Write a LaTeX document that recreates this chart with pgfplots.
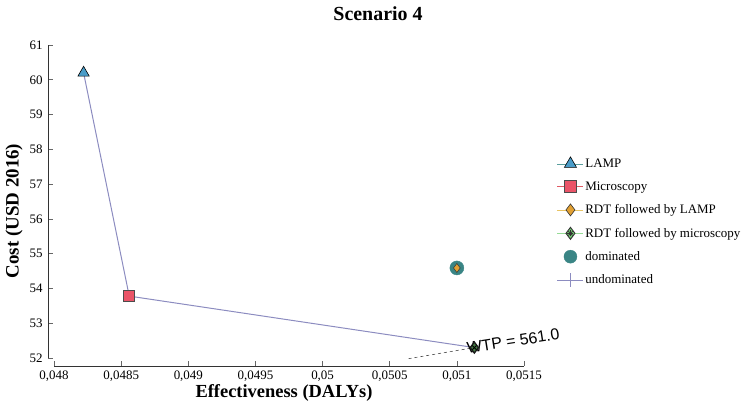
\documentclass[border=0pt]{standalone}
\usepackage{pgfplots}
\pgfplotsset{compat=1.18}
\usepackage{fontspec}
\setmainfont{Liberation Serif}
\newfontfamily\arialfont{Liberation Sans}
\definecolor{frontier}{RGB}{140,140,192}
\definecolor{lampfill}{RGB}{74,156,200}
\definecolor{lampline}{RGB}{90,158,158}
\definecolor{micfill}{RGB}{234,84,104}
\definecolor{micline}{RGB}{224,90,100}
\definecolor{rlfill}{RGB}{226,160,50}
\definecolor{rlline}{RGB}{232,196,100}
\definecolor{rmfill}{RGB}{110,200,110}
\definecolor{rmline}{RGB}{150,220,150}
\definecolor{domfill}{RGB}{58,133,133}
\begin{document}
\begin{tikzpicture}[x=1bp,y=1bp]
\useasboundingbox (0,0) rectangle (750,417);
\begin{axis}[
  at={(48bp,51bp)}, anchor=south west,
  scale only axis, width=476bp, height=321bp,
  xmin=0.047955, xmax=0.0515, ymin=51.77, ymax=61,
  axis x line*=bottom, axis y line*=left,
  axis line style={draw=none},
  scaled x ticks=false,
  xtick={0.048,0.0485,0.049,0.0495,0.05,0.0505,0.051,0.0515},
  xticklabels={{0,048},{0,0485},{0,049},{0,0495},{0,05},{0,0505},{0,051},{0,0515}},
  ytick={52,53,54,55,56,57,58,59,60,61},
  yticklabels={52,53,54,55,56,57,58,59,60,61},
  tick align=inside, major tick length=5bp,
  tick style={color=black!60, line width=0.6bp},
  ticklabel style={font=\fontsize{13}{15}\selectfont},
  x tick label style={yshift=-1bp},
  y tick label style={xshift=-2bp},
  clip=false,
  legend image code/.code={\draw[mark repeat=2,mark phase=2,#1] plot coordinates {(0bp,0bp)(13bp,0bp)(26bp,0bp)};},
  legend style={at={(1.069,0.652)}, anchor=north west, draw=none, fill=none,
    inner sep=0pt, row sep=9.8bp, font=\fontsize{13}{15}\selectfont,
    nodes={inner sep=1.5bp}, legend cell align=left},
]
% axis lines
\draw[black!80, line width=1bp] (axis cs:0.048,51.77) -- (axis cs:0.0515,51.77);
\draw[black!80, line width=1bp] (axis cs:0.047955,52) -- (axis cs:0.047955,61);

% legend images
\addlegendimage{color=lampline, line width=0.8bp, mark=triangle*, mark size=7bp, mark options={fill=lampfill, draw=black, line width=0.6bp}}
\addlegendentry{LAMP}
\addlegendimage{color=micline, line width=0.8bp, mark=square*, mark size=6bp, mark options={fill=micfill, draw=black!70, line width=0.6bp}}
\addlegendentry{Microscopy}
\addlegendimage{color=rlline, line width=0.8bp, mark=diamond*, mark size=6bp, mark options={fill=rlfill, draw=black!80, line width=0.6bp}}
\addlegendentry{RDT followed by LAMP}
\addlegendimage{legend image code/.code={%
  \draw[rmline, line width=0.8bp] (0bp,0bp) -- (26bp,0bp);
  \draw[mark=diamond*, mark size=6bp, mark options={fill=rmfill, draw=black!80, line width=0.9bp}] plot coordinates {(13bp,0bp)};
  \draw[mark=x, mark size=3bp, mark options={draw=black!80, line width=0.7bp}] plot coordinates {(13bp,0bp)};
  \draw[mark=+, mark size=3bp, mark options={draw=black!80, line width=0.5bp}] plot coordinates {(13bp,0bp)};}}
\addlegendentry{RDT followed by microscopy}
\addlegendimage{only marks, mark=*, mark size=6.5bp, mark options={fill=domfill, draw=domfill}}
\addlegendentry{dominated}
\addlegendimage{color=frontier, line width=0.8bp, mark=|, mark size=7bp, mark options={draw=frontier, line width=0.8bp}}
\addlegendentry{undominated}

% frontier line
\addplot[color=frontier, line width=1bp, forget plot] coordinates {(0.04822,60.2) (0.04856,53.78) (0.05113,52.30)};

% WTP dashed line
\addplot[color=black!70, dashed, line width=0.6bp, forget plot] coordinates {(0.05064,51.98) (0.05113,52.30)};

% dominated point
\addplot[only marks, mark=*, mark size=7bp, mark options={fill=domfill, draw=domfill}, forget plot] coordinates {(0.05100,54.59)};
\addplot[only marks, mark=diamond*, mark size=4.5bp, mark options={fill=rlfill, draw=black!80, line width=0.5bp}, forget plot] coordinates {(0.05100,54.59)};

% LAMP
\addplot[only marks, mark=triangle*, mark size=6.5bp, mark options={fill=lampfill, draw=black, line width=0.6bp}, forget plot] coordinates {(0.04822,60.2)};
% Microscopy
\addplot[only marks, mark=square*, mark size=5.5bp, mark options={fill=micfill, draw=black!70, line width=0.6bp}, forget plot] coordinates {(0.04856,53.78)};
% RDT followed by microscopy
\addplot[only marks, mark=diamond*, mark size=5.5bp, mark options={fill=rmfill!60!black, draw=black!90, line width=1.3bp}, forget plot] coordinates {(0.05113,52.30)};
\addplot[only marks, mark=x, mark size=3bp, mark options={draw=black, line width=0.9bp}, forget plot] coordinates {(0.05113,52.30)};

\node[font=\arialfont\fontsize{16}{18}\selectfont, anchor=base west, rotate=9, inner sep=0pt] at (axis cs:0.05108,52.12) {WTP = 561.0};
\end{axis}
\node[font=\bfseries\fontsize{20}{22}\selectfont] at (378,403) {Scenario 4};
\node[font=\bfseries\fontsize{18.5}{21}\selectfont] at (284,24) {Effectiveness (DALYs)};
\node[font=\bfseries\fontsize{19}{21}\selectfont, rotate=90] at (14,206) {Cost (USD 2016)};
\end{tikzpicture}
\end{document}
